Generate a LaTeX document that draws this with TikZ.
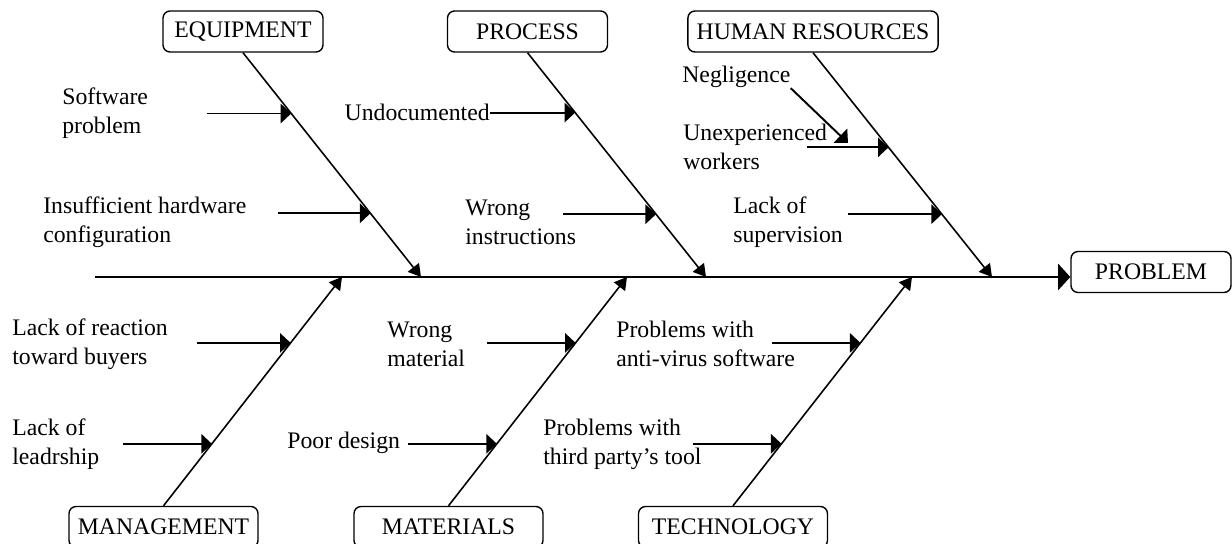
\documentclass[tikz,border=0pt]{standalone}
\usepackage{fontspec}
\setmainfont{Liberation Serif}
\usetikzlibrary{arrows.meta,calc,positioning}

\begin{document}
\begin{tikzpicture}[
	x=0.02cm, y=-0.02cm,
	every node/.style={font=\fontsize{13.5}{16.4}\selectfont},
	cat/.style={
		draw,
		rectangle, rounded corners=4pt,
		line width=0.8pt,
		minimum width=3.2cm, minimum height=0.82cm,
		inner xsep=5pt
	},
	catlow/.style={
		cat,
		minimum width=3.78cm
	},
	cause/.style={
		align=left,
		inner sep=0pt,
		anchor=west
	},
	spine/.style={line width=1.4pt, -{Triangle[length=7pt,width=15pt]}},
	bone/.style={line width=0.9pt, -{Triangle[length=7pt,width=8pt]}},
	branch/.style={line width=1.1pt, -{Triangle[length=6pt,width=11pt]}}
	]
	\useasboundingbox (0,0) rectangle (1232,544);

	\node[cat] (equip) at (243,31.5) {EQUIPMENT};
	\node[cat] (process) at (527.5,31.5) {PROCESS};
	\node[cat] (human) at (813,31.5) {HUMAN RESOURCES};
	\node[cat] (problem) at (1151,272) {PROBLEM};
	\node[catlow] (manage) at (163.5,527) {MANAGEMENT};
	\node[catlow] (mater) at (448.5,527) {MATERIALS};
	\node[catlow] (techno) at (733,527) {TECHNOLOGY};

	\coordinate (tail) at (95,277);
	\coordinate (eqs) at (421,277);
	\coordinate (prs) at (706,277);
	\coordinate (hus) at (992,277);
	\coordinate (mas) at (342,277);
	\coordinate (mts) at (627,277);
	\coordinate (tes) at (912,277);

	\draw[spine] (tail) -- (tail -| problem.west);
	\draw[bone] (equip.south) -- (eqs);
	\draw[bone] (process.south) -- (prs);
	\draw[bone] (human.south) -- (hus);
	\draw[bone] (manage.north) -- (mas);
	\draw[bone] (mater.north) -- (mts);
	\draw[bone] (techno.north) -- (tes);

	\node[cause] (soft) at (62,113) {Software\\problem};
	\node[cause] (hard) at (43,222) {Insufficient hardware\\configuration};
	\node[cause, anchor=east] (undoc) at (490,112) {Undocumented};
	\node[cause] (instr) at (465,222) {Wrong\\instructions};
	\node[cause] (negl) at (682,77) {Negligence};
	\node[cause] (unexp) at (683,147) {Unexperienced\\workers};
	\node[cause] (superv) at (733,222) {Lack of\\supervision};
	\node[cause] (react) at (12,344) {Lack of reaction\\toward buyers};
	\node[cause] (lead) at (12,444) {Lack of\\leadrship};
	\node[cause] (wmat) at (387,344) {Wrong\\material};
	\node[cause] (poor) at (287,443) {Poor design};
	\node[cause] (virus) at (616,344) {Problems with\\anti-virus software};
	\node[cause] (third) at (543,444) {Problems with\\third party’s tool};

	\coordinate (e1) at ($(equip.south)!0.271!(eqs)$);
	\coordinate (e2) at ($(equip.south)!0.716!(eqs)$);
	\coordinate (p1) at ($(process.south)!0.267!(prs)$);
	\coordinate (p2) at ($(process.south)!0.72!(prs)$);
	\coordinate (h1) at ($(human.south)!0.422!(hus)$);
	\coordinate (h2) at ($(human.south)!0.72!(hus)$);
	\coordinate (m1) at ($(manage.north)!0.712!(mas)$);
	\coordinate (m2) at ($(manage.north)!0.271!(mas)$);
	\coordinate (t1) at ($(mater.north)!0.712!(mts)$);
	\coordinate (t2) at ($(mater.north)!0.271!(mts)$);
	\coordinate (g1) at ($(techno.north)!0.712!(tes)$);
	\coordinate (g2) at ($(techno.north)!0.271!(tes)$);

	\coordinate (e1s) at (207,113);
	\coordinate (e2s) at (278,213);
	\coordinate (p2s) at (563,214);
	\coordinate (h1s) at (807,147);
	\coordinate (h2s) at (848,214);
	\coordinate (n1) at (848,143);
	\coordinate (m1s) at (197,343);
	\coordinate (m2s) at (123,444);
	\coordinate (t1s) at (487,343);
	\coordinate (t2s) at (408,444);
	\coordinate (g1s) at (772,343);
	\coordinate (g2s) at (693,444);

	\draw[branch] (e1s |- e1) -- (e1);
	\draw[branch] (e2s |- e2) -- (e2);
	\draw[branch] (undoc.east |- p1) -- (p1);
	\draw[branch] (p2s |- p2) -- (p2);
	\draw[branch] (h1s |- h1) -- (h1);
	\draw[branch] (negl.south east) -- (n1);
	\draw[branch] (h2s |- h2) -- (h2);
	\draw[branch] (m1s |- m1) -- (m1);
	\draw[branch] (m2s |- m2) -- (m2);
	\draw[branch] (t1s |- t1) -- (t1);
	\draw[branch] (t2s |- t2) -- (t2);
	\draw[branch] (g1s |- g1) -- (g1);
	\draw[branch] (g2s |- g2) -- (g2);
\end{tikzpicture}
\end{document}
